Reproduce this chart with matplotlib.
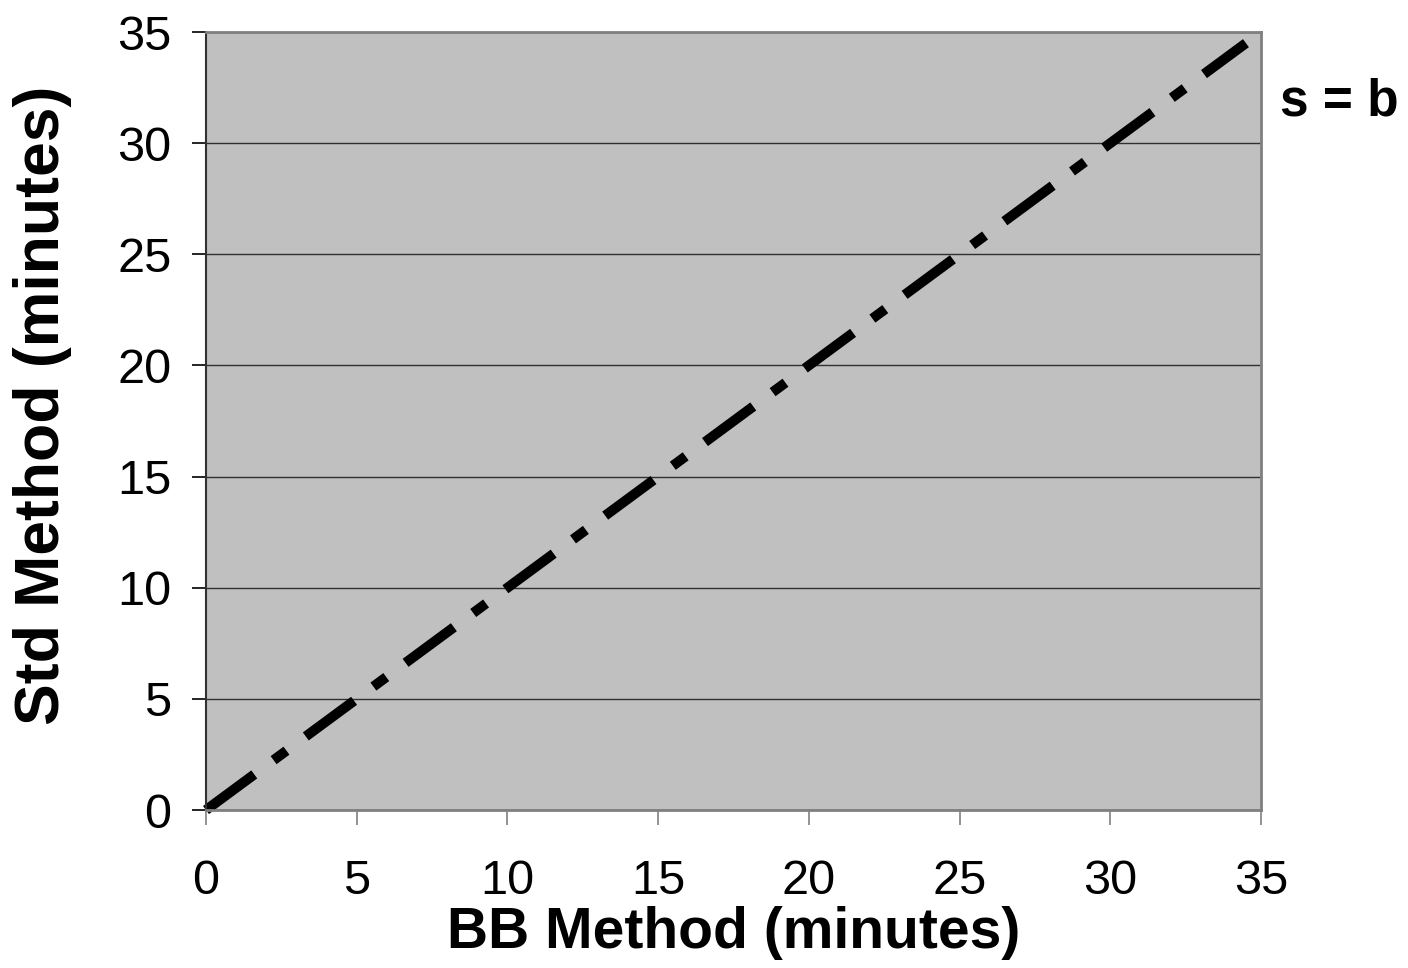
import matplotlib.pyplot as plt

# s = b reference line (both methods, minutes)
bb_minutes = [0, 34.5]
std_minutes = [0, 34.5]
ticks = [0, 5, 10, 15, 20, 25, 30, 35]

plt.rcParams['font.family'] = ['Liberation Sans', 'DejaVu Sans']

fig = plt.figure(figsize=(14.08, 9.68), dpi=100)
ax = fig.add_axes([0.1463, 0.1632, 0.7493, 0.8037])
ax.set_facecolor('#c0c0c0')

line, = ax.plot(bb_minutes, std_minutes, color='black', lw=7.2,
                solid_capstyle='butt', dash_capstyle='butt', clip_on=False)
line.set_dashes((6.0, 2.4, 1.6, 2.4))

ax.set_xlim(0, 35)
ax.set_ylim(0, 35)
ax.set_xticks(ticks)
ax.set_yticks(ticks)
ax.yaxis.grid(True, color='#303030', lw=1.0)
ax.set_axisbelow(True)

for side in ['top', 'right', 'bottom']:
    ax.spines[side].set_color('#808080')
    ax.spines[side].set_linewidth(2)
ax.spines['left'].set_color('#303030')
ax.spines['left'].set_linewidth(1.5)

ax.tick_params(axis='y', direction='out', length=10, width=1.2, color='black',
               labelsize=35, pad=15)
ax.tick_params(axis='x', direction='out', length=11, width=1.2, color='#808080',
               labelsize=35, labelcolor='black', pad=24)

ax.set_xlabel('BB Method (minutes)', fontsize=41, fontweight='bold', labelpad=2)
ax.set_ylabel('Std Method (minutes)', fontsize=45, fontweight='bold')
ax.yaxis.set_label_coords(-0.127, 0.52)

ax.text(1.018, 0.91, 's = b', transform=ax.transAxes, fontsize=37,
        fontweight='bold', ha='left', va='center')

fig.savefig('out.png', dpi=100)
